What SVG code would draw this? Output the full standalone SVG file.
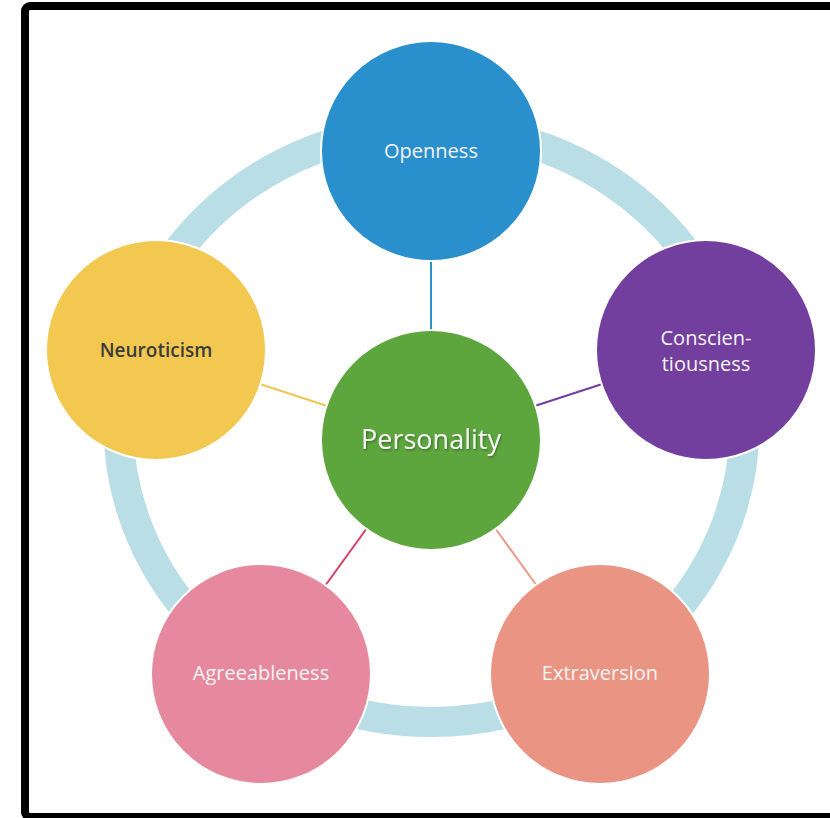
<svg xmlns="http://www.w3.org/2000/svg" width="830" height="818" viewBox="0 0 830 818">
<defs>
<style>
.node{stroke:#ffffff;stroke-width:2}
.lbl{font-family:"Open Sans","DejaVu Sans",sans-serif;font-size:20px;fill:#f4f4f4;text-anchor:middle}
.dark{fill:#3c3c3c;font-weight:600;font-size:19px}
.big{font-size:27px;fill:#f6f6f6}
.conn{stroke-width:2;fill:none}
</style>
<filter id="sh" x="-10%" y="-30%" width="120%" height="160%">
<feDropShadow dx="1" dy="1.5" stdDeviation="1" flood-color="#000" flood-opacity="0.35"/>
</filter>
</defs>
<rect x="0" y="0" width="830" height="818" fill="#ffffff"/>
<rect x="25" y="6" width="830" height="811" rx="5" fill="none" stroke="#000000" stroke-width="8"/>
<ellipse id="ring" cx="431.5" cy="425" rx="313" ry="297" fill="none" stroke="#B9DEE6" stroke-width="30"/>
<g id="connectors">
<line class="conn" x1="431" y1="330" x2="431" y2="261" stroke="#2E8FCB"/>
<line class="conn" x1="535.5" y1="405.8" x2="601.5" y2="384.2" stroke="#7040A0"/>
<line class="conn" x1="495.7" y1="529" x2="536.3" y2="585" stroke="#EC9A88"/>
<line class="conn" x1="366.3" y1="529" x2="325.7" y2="585" stroke="#D63E60"/>
<line class="conn" x1="326.5" y1="405.8" x2="260.5" y2="384.2" stroke="#F2C64E"/>
</g>
<g id="openness">
<circle class="node" cx="431" cy="151" r="110" fill="#2A8FCD"/>
<text class="lbl" x="431" y="158">Openness</text>
</g>
<g id="conscientiousness">
<circle class="node" cx="706" cy="350" r="110" fill="#733F9E"/>
<text class="lbl" x="706" y="345">Conscien-</text>
<text class="lbl" x="706" y="371">tiousness</text>
</g>
<g id="extraversion">
<circle class="node" cx="600" cy="674" r="110" fill="#EA9484"/>
<text class="lbl" x="600" y="680">Extraversion</text>
</g>
<g id="agreeableness">
<circle class="node" cx="261" cy="674" r="110" fill="#E6899E"/>
<text class="lbl" x="261" y="680">Agreeableness</text>
</g>
<g id="neuroticism">
<circle class="node" cx="156" cy="350" r="110" fill="#F3C851"/>
<text class="lbl dark" x="156" y="357">Neuroticism</text>
</g>
<g id="personality">
<circle class="node" cx="431" cy="440" r="110" fill="#5DA63E"/>
<text class="lbl big" x="431" y="449" filter="url(#sh)">Personality</text>
</g>
</svg>
